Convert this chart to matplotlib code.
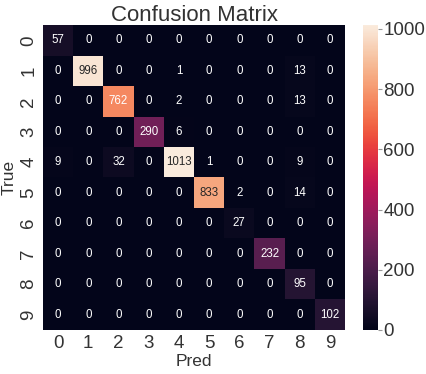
import numpy as np
import matplotlib
matplotlib.use('Agg')
import matplotlib.pyplot as plt
import seaborn as sns

# Confusion matrix values (rows = true, columns = predicted)
labels = ['0', '1', '2', '3', '4', '5', '6', '7', '8', '9']
row_0 = [57, 0, 0, 0, 0, 0, 0, 0, 0, 0]
row_1 = [0, 996, 0, 0, 1, 0, 0, 0, 13, 0]
row_2 = [0, 0, 762, 0, 2, 0, 0, 0, 13, 0]
row_3 = [0, 0, 0, 290, 6, 0, 0, 0, 0, 0]
row_4 = [9, 0, 32, 0, 1013, 1, 0, 0, 9, 0]
row_5 = [0, 0, 0, 0, 0, 833, 2, 0, 14, 0]
row_6 = [0, 0, 0, 0, 0, 0, 27, 0, 0, 0]
row_7 = [0, 0, 0, 0, 0, 0, 0, 232, 0, 0]
row_8 = [0, 0, 0, 0, 0, 0, 0, 0, 95, 0]
row_9 = [0, 0, 0, 0, 0, 0, 0, 0, 0, 102]

cm = np.array([row_0, row_1, row_2, row_3, row_4,
               row_5, row_6, row_7, row_8, row_9])

sns.set_theme(style='white')
plt.rcParams['font.family'] = ['Liberation Sans', 'DejaVu Sans']
plt.rcParams['text.color'] = '.2'
plt.rcParams['axes.labelcolor'] = '.2'
plt.rcParams['xtick.color'] = '.2'
plt.rcParams['ytick.color'] = '.2'

fig = plt.figure(figsize=(4.27, 3.74), dpi=100)
ax = fig.add_axes([0.1007, 0.118, 0.7073, 0.815])
cax = fig.add_axes([0.850, 0.118, 0.035, 0.815])

sns.heatmap(cm, annot=True, fmt='d', cmap='rocket', ax=ax, cbar_ax=cax,
            xticklabels=labels, yticklabels=labels,
            annot_kws={'size': 8.3})

ax.set_title('Confusion Matrix', fontsize=16, pad=3)
ax.set_xlabel('Pred', fontsize=12.5, labelpad=1)
ax.set_ylabel('True', fontsize=12.5, labelpad=3)
ax.tick_params(axis='both', length=0, labelsize=13.5, pad=4)
plt.setp(ax.get_yticklabels(), rotation=90, va='center')
plt.setp(ax.get_xticklabels(), rotation=0)

cax.yaxis.set_ticks([0, 200, 400, 600, 800, 1000])
cax.tick_params(right=True, labelsize=13.5, length=3, width=0.8,
                color='.6', labelcolor='.2', pad=1)

fig.savefig('out.png', dpi=100)
